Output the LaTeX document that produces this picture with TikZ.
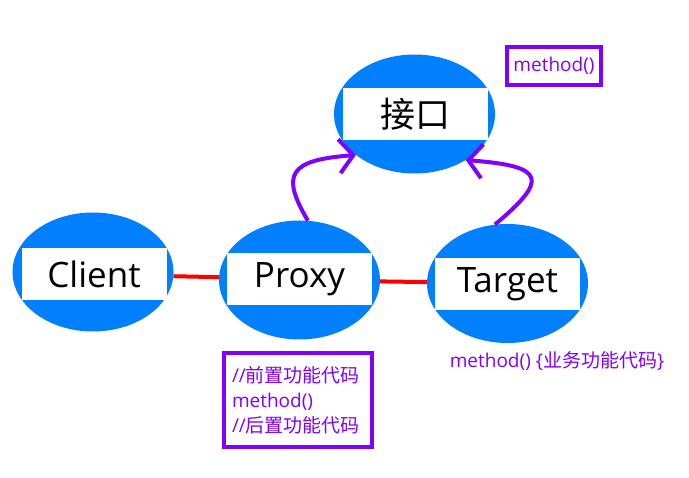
\documentclass[tikz,border=0pt]{standalone}
\usepackage{fontspec}
\setmainfont{Open Sans}
\newfontfamily\cjk{Noto Sans CJK SC}
\usetikzlibrary{shapes.geometric,arrows.meta}
\definecolor{bubbleblue}{RGB}{0,128,255}
\definecolor{notepurple}{RGB}{128,0,255}
\begin{document}
\begin{tikzpicture}[
    x=1pt, y=-1pt,
    bubble/.style={ellipse, fill=bubbleblue, minimum width=161pt, minimum height=119pt, inner sep=0pt},
    band/.style={rectangle, fill=white, minimum width=145pt, minimum height=52pt, inner sep=0pt, font=\fontsize{35}{40}\selectfont},
    link/.style={red, line width=4pt},
    impl/.style={notepurple, line width=4pt, -{Straight Barb[length=14pt,width=34pt]}},
    note/.style={draw=notepurple, line width=4pt, text=notepurple, inner sep=0pt, font=\fontsize{19}{25}\selectfont}
  ]
    \useasboundingbox (0,0) rectangle (689,478);

    % Bubbles
    \node[bubble] (iface) at (414.5,114) {};
    \node[band] (ifacelabel) at (415,114.5) {\cjk 接口};
    \node[bubble] (client) at (93,272) {};
    \node[band] (clientlabel) at (94,274) {Client};
    \node[bubble] (proxy) at (299.5,280) {};
    \node[band] (proxylabel) at (299.5,279.5) {Proxy};
    \node[bubble] (target) at (507.5,283.5) {};
    \node[band] (targetlabel) at (507.5,284) {Target};

    % Links
    \draw[link] (client.-3.6) -- (proxy.178);
    \draw[link] (proxy.-1.4) -- (target.179);

    % Implements
    \draw[impl] (proxy.82) .. controls (281,175) and (288,160) .. (iface.215);
    \draw[impl] (target.102) .. controls (548,180) and (547,166) .. (iface.318);

    % Notes
    \node[note, minimum width=94pt, minimum height=38pt] (ifacenote) at (554,66) {method()};
    \node[note, minimum height=94pt, text width=132pt, inner xsep=8pt, align=left] (proxynote) at (298,400)
      {//{\cjk 前置功能代码}\\method()\\//{\cjk 后置功能代码}};
    \node[text=notepurple, font=\fontsize{19}{25}\selectfont] (targetnote) at (557,361) {method() \{{\cjk 业务功能代码}\}};
  \end{tikzpicture}
\end{document}
